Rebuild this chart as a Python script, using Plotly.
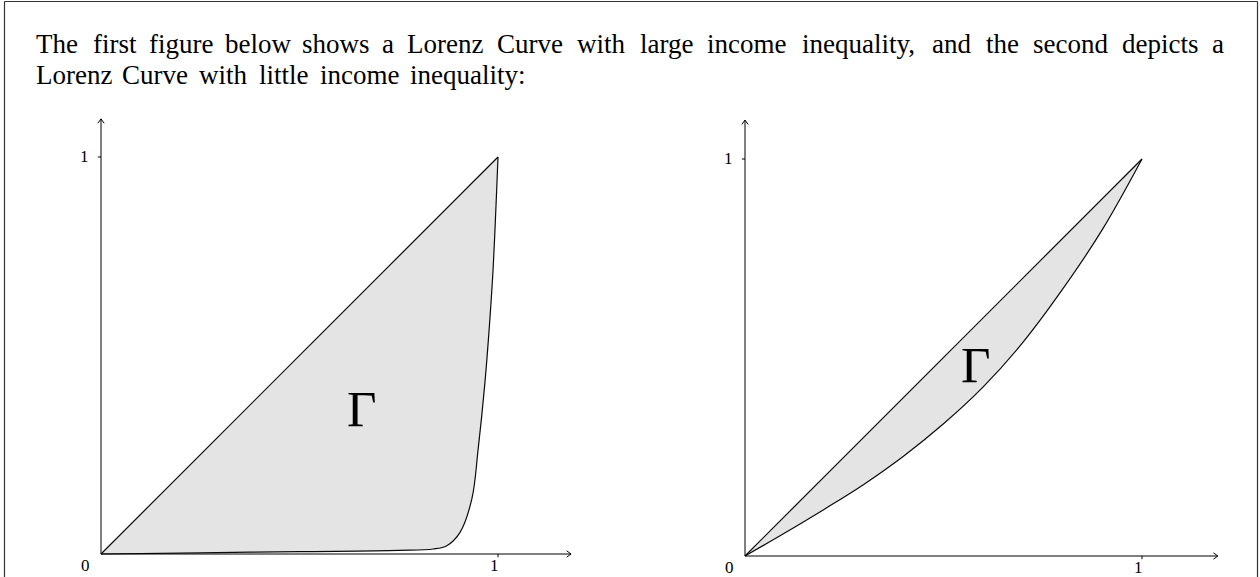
import plotly.graph_objects as go

# Cumulative share of population (x) against cumulative share of income (y)
unequal_pop = [0, 0.25, 0.5, 0.75, 0.837, 0.871, 0.904, 0.934, 0.95, 0.967, 0.98, 0.988, 0.997, 1.0]
unequal_inc = [0, 0.003, 0.006, 0.009, 0.0126, 0.021, 0.054, 0.138, 0.264, 0.431, 0.598, 0.724, 0.925, 1.0]

equal_pop = [0, 0.1, 0.2, 0.3, 0.4, 0.5, 0.6, 0.7, 0.8, 0.9, 1.0]
equal_inc = [0, 0.058, 0.118, 0.181, 0.252, 0.333, 0.426, 0.538, 0.672, 0.822, 1.0]

equality_line = [0, 1]
tick_labels = ["0", "1"]
area_label = "Γ"

line1_words = ["The", "first", "figure", "below", "shows", "a", "Lorenz", "Curve", "with",
               "large", "income", "inequality,", "and", "the", "second", "depicts", "a"]
line1_centers = [57.4, 114.5, 181.0, 257.5, 335.6, 387.6, 444.8, 529.9, 601.7,
                 666.7, 746.1, 858.0, 951.1, 1002.3, 1070.1, 1159.7, 1218.2]
line2_words = ["Lorenz", "Curve", "with", "little", "income", "inequality:"]
line2_centers = [73.5, 155.0, 223.4, 284.1, 359.3, 467.7]

W, H = 1260, 577
SERIF = "Liberation Serif"
FILL = "#e4e4e4"
INK = "#0a0a0a"

fig = go.Figure()

panels = [
    dict(xa="x", ya="y", pop=unequal_pop, inc=unequal_inc,
         label_pos=(0.655, 0.365), xmax=1.184, ymax=1.096),
    dict(xa="x2", ya="y2", pop=equal_pop, inc=equal_inc,
         label_pos=(0.58, 0.481), xmax=1.191, ymax=1.098),
]

shapes = []
annotations = []

for p in panels:
    xa, ya = p["xa"], p["ya"]
    # line of perfect equality
    fig.add_trace(go.Scatter(
        x=equality_line, y=equality_line, xaxis=xa, yaxis=ya, mode="lines",
        line=dict(color=INK, width=1.2), hoverinfo="skip", showlegend=False))
    # Lorenz curve, shaded down from the equality line
    fig.add_trace(go.Scatter(
        x=p["pop"], y=p["inc"], xaxis=xa, yaxis=ya, mode="lines",
        line=dict(color=INK, width=1.2, shape="spline", smoothing=1.0),
        fill="tonexty", fillcolor=FILL, hoverinfo="skip", showlegend=False))

    xm, ym = p["xmax"], p["ymax"]
    axis_line = dict(color="#000000", width=1)
    # axes
    shapes.append(dict(type="line", xref=xa, yref=ya, x0=0, y0=0, x1=xm, y1=0, line=axis_line, layer="above"))
    shapes.append(dict(type="line", xref=xa, yref=ya, x0=0, y0=0, x1=0, y1=ym, line=axis_line, layer="above"))
    # arrow tips
    shapes.append(dict(type="path", xref=xa, yref=ya,
                       path=f"M {xm-0.011},0.008 L {xm},0 L {xm-0.011},-0.008",
                       line=axis_line, layer="above"))
    shapes.append(dict(type="path", xref=xa, yref=ya,
                       path=f"M -0.008,{ym-0.011} L 0,{ym} L 0.008,{ym-0.011}",
                       line=axis_line, layer="above"))
    # ticks at 1
    shapes.append(dict(type="line", xref=xa, yref=ya, x0=1, y0=0, x1=1, y1=-0.008, line=axis_line))
    shapes.append(dict(type="line", xref=xa, yref=ya, x0=-0.008, y0=1, x1=0, y1=1, line=axis_line))

    lab = dict(xref=xa, yref=ya, showarrow=False, font=dict(family=SERIF, size=17, color="#000"))
    annotations.append(dict(lab, x=-0.039, y=-0.029, text=tick_labels[0]))
    annotations.append(dict(lab, x=0.992, y=-0.029, text=tick_labels[1]))
    annotations.append(dict(lab, x=-0.041, y=1.002, text=tick_labels[1]))
    annotations.append(dict(xref=xa, yref=ya, showarrow=False, x=p["label_pos"][0], y=p["label_pos"][1],
                            text=area_label, font=dict(family=SERIF, size=51, color="#000")))

# paragraph above the figures
for words, centers, py in [(line1_words, line1_centers, 44), (line2_words, line2_centers, 75)]:
    for w, c in zip(words, centers):
        annotations.append(dict(xref="paper", yref="paper", x=c / W, y=1 - py / H,
                                xanchor="center", yanchor="middle", showarrow=False, text=w,
                                font=dict(family=SERIF, size=27, color="#000")))

# page frame
frame = dict(color="#333333", width=1.2)
shapes.append(dict(type="line", xref="paper", yref="paper", x0=4.5 / W, x1=4.5 / W, y0=0, y1=1 - 1.5 / H, line=frame))
shapes.append(dict(type="line", xref="paper", yref="paper", x0=4.5 / W, x1=1257.5 / W, y0=1 - 1.5 / H, y1=1 - 1.5 / H, line=frame))
shapes.append(dict(type="line", xref="paper", yref="paper", x0=1257.5 / W, x1=1257.5 / W, y0=0, y1=1 - 1.5 / H, line=frame))

U = 397.0
hidden = dict(visible=False, showgrid=False, zeroline=False, fixedrange=True)
fig.update_layout(
    width=W, height=H, autosize=False,
    margin=dict(l=0, r=0, t=0, b=0, pad=0),
    paper_bgcolor="white", plot_bgcolor="rgba(0,0,0,0)",
    xaxis=dict(hidden, domain=[0, 0.5], range=[-101 / U, 529 / U]),
    yaxis=dict(hidden, domain=[0, 1], range=[-23 / U, 554 / U]),
    xaxis2=dict(hidden, domain=[0.5, 1], range=[-115 / U, 515 / U], anchor="y2"),
    yaxis2=dict(hidden, domain=[0, 1], range=[-21 / U, 556 / U], anchor="x2"),
    shapes=shapes, annotations=annotations,
)

fig.write_html("out.html")
